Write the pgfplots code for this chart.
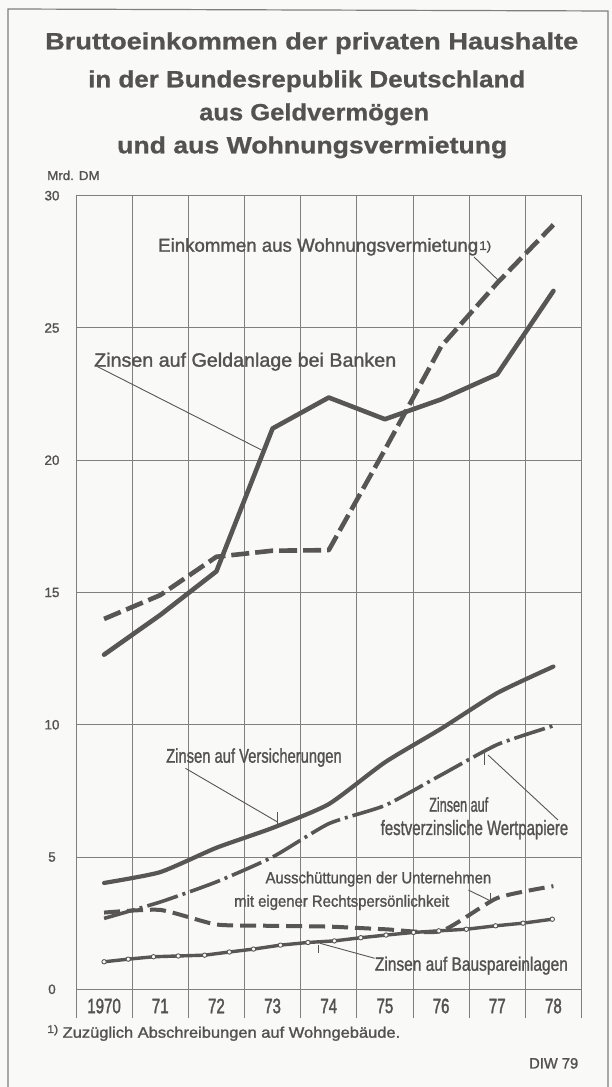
\documentclass[border=0pt]{standalone}
\usepackage{pgfplots}
\pgfplotsset{compat=1.18}
\usepackage{fontspec}
\setmainfont{Liberation Sans}
\newfontfamily\condfont[FakeStretch=0.72,FakeBold=1.6]{Liberation Sans}
\newfontfamily\labfont[FakeBold=1.4]{Liberation Sans}
\newfontfamily\titlefont[FakeBold=0.8]{Liberation Sans Bold}
\definecolor{linec}{RGB}{88,85,85}
\definecolor{gridc}{RGB}{128,126,126}
\definecolor{textc}{RGB}{84,81,81}
\definecolor{bgc}{RGB}{249,249,248}
\newcommand\lab[3]{\resizebox{#1bp}{#2bp}{#3}}
\begin{document}
\begin{tikzpicture}
\begin{scope}[x=1bp,y=1bp]
\path[use as bounding box,fill=bgc] (0,0) rectangle (612,1087);
% frame
\draw[gridc,line width=1.2bp] (8,-2) -- (8,1078) -- (608,1076) -- (608,-2);
% titles
\begin{scope}[every node/.style={inner sep=0,anchor=base west,text=textc,font=\titlefont}]
\node at (45,1037.7) {\lab{533}{17}{Bruttoeinkommen der privaten Haushalte}};
\node at (88,999.7) {\lab{437}{17}{in der Bundesrepublik Deutschland}};
\node at (199,966.7) {\lab{230}{17}{aus Geldvermögen}};
\node at (117,933.7) {\lab{390}{17}{und aus Wohnungsvermietung}};
\end{scope}
\end{scope}
\begin{axis}[
  at={(76bp,68.6bp)}, anchor=south west,
  width=505.5bp, height=822.7bp, scale only axis,
  xmin=0, xmax=9, ymin=-1.1, ymax=30,
  axis line style={draw=none},
  xtick={0.5,1.5,...,8.5},
  xticklabels={1970,71,72,73,74,75,76,77,78},
  minor xtick={0,1,...,9},
  xminorgrids=true, xmajorgrids=false,
  ytick={0,5,...,30},
  ymajorgrids=true,
  major tick length=0pt, minor tick length=0pt,
  grid style={draw=gridc, line width=1bp},
  minor grid style={draw=gridc, line width=1bp},
  xticklabel style={anchor=center, yshift=12.4bp, text=textc, font=\condfont\fontsize{21}{21}\selectfont},
  yticklabel style={anchor=center, xshift=-24bp, text=textc, font=\labfont\fontsize{13.5}{14}\selectfont},
  /pgf/number format/assume math mode=true,
  clip=false,
]
% Zinsen auf Geldanlage bei Banken
\addplot[linec, line width=4.6bp, line join=round, line cap=round] coordinates {
 (0.5,12.65) (1.5,14.15) (2.5,15.8) (3.5,21.2) (4.5,22.37) (5.5,21.55) (6.5,22.3) (7.5,23.25) (8.5,26.4)};
% Einkommen aus Wohnungsvermietung
\addplot[linec, line width=4.6bp, line join=round, dash pattern=on 18bp off 6bp] coordinates {
 (0.5,14.0) (1.5,14.9) (2.5,16.35) (3.5,16.58) (4.5,16.6) (5.5,20.4) (6.5,24.3) (7.5,26.7) (8.5,28.9)};
% Zinsen auf Versicherungen
\addplot[linec, line width=4.2bp, line join=round, line cap=round, smooth, tension=0.35] coordinates {
 (0.5,4.02) (1.5,4.43) (2.5,5.35) (3.5,6.1) (4.5,7.0) (5.5,8.58) (6.5,9.85) (7.5,11.2) (8.5,12.2)};
% Zinsen auf festverzinsliche Wertpapiere
\addplot[linec, line width=3.6bp, line join=round, smooth, tension=0.35, dash pattern=on 32bp off 5bp on 3bp off 5bp] coordinates {
 (0.5,2.68) (1.5,3.3) (2.5,4.06) (3.5,5.0) (4.5,6.26) (5.5,6.95) (6.5,8.1) (7.5,9.25) (8.5,9.96)};
% Ausschuettungen
\addplot[linec, line width=4bp, line join=round, smooth, tension=0.35, dash pattern=on 16bp off 7bp] coordinates {
 (0.5,2.9) (1.5,3.0) (2.5,2.45) (3.5,2.4) (4.5,2.37) (5.5,2.27) (6.5,2.2) (7.5,3.45) (8.5,3.9)};
% Zinsen auf Bauspareinlagen
\addplot[linec, line width=3.4bp, line join=round, mark=*, mark size=2.2bp,
  mark options={solid, fill=bgc, draw=linec, line width=0.9bp}] coordinates {
 (0.5,1.04) (0.93,1.14) (1.38,1.23) (1.82,1.26) (2.29,1.29) (2.73,1.41) (3.16,1.52) (3.64,1.67)
 (4.13,1.77) (4.6,1.83) (5.07,1.95) (5.52,2.05) (6.01,2.15) (6.46,2.21) (6.95,2.27) (7.47,2.4)
 (7.96,2.5) (8.48,2.65)};
\end{axis}
\begin{scope}[x=1bp,y=1bp]
% axis unit and labels
\begin{scope}[every node/.style={inner sep=0,anchor=base west,text=textc,font=\labfont}]
\node at (47,907) {\lab{52.5}{9.3}{Mrd. DM}};
\node at (158,835.3) {\lab{320}{13.5}{Einkommen aus Wohnungsvermietung}};
\node at (479,837) {\lab{12}{9}{1)}};
\node at (94,720.3) {\lab{302}{14}{Zinsen auf Geldanlage bei Banken}};
\node at (166,324.3) {\lab{175.5}{14.3}{Zinsen auf Versicherungen}};
\node at (429,275.3) {\lab{59}{14.5}{Zinsen auf}};
\node at (380.5,252) {\lab{187.5}{15}{festverzinsliche Wertpapiere}};
\node at (265.4,203.7) {\lab{225.6}{11.7}{Ausschüttungen der Unternehmen}};
\node at (234,180.3) {\lab{215}{11.7}{mit eigener Rechtspersönlichkeit}};
\node at (374.7,116.3) {\lab{193}{14}{Zinsen auf Bauspareinlagen}};
\node at (47,54) {\lab{11}{8}{1)}};
\node at (62.5,49.3) {\lab{337.5}{11}{Zuzüglich Abschreibungen auf Wohngebäude.}};
\node at (529,18.5) {\lab{49}{10.5}{DIW 79}};
\end{scope}
% leader lines
\begin{scope}[linec, line width=0.9bp]
\draw (474,830) -- (498,807);
\draw (97.6,720.3) -- (261.5,637);
\draw (185.4,318.7) -- (277,265.3);
\draw (277,275) -- (277,261);
\draw (558,267) -- (488,332);
\draw (484,334) -- (484,322);
\draw (468.4,197) -- (490,186.3);
\draw (490,194) -- (490,184);
\draw (374.7,128.7) -- (320,143.7);
\draw (318,142) -- (318,134);
\end{scope}
\end{scope}
\end{tikzpicture}
\end{document}
